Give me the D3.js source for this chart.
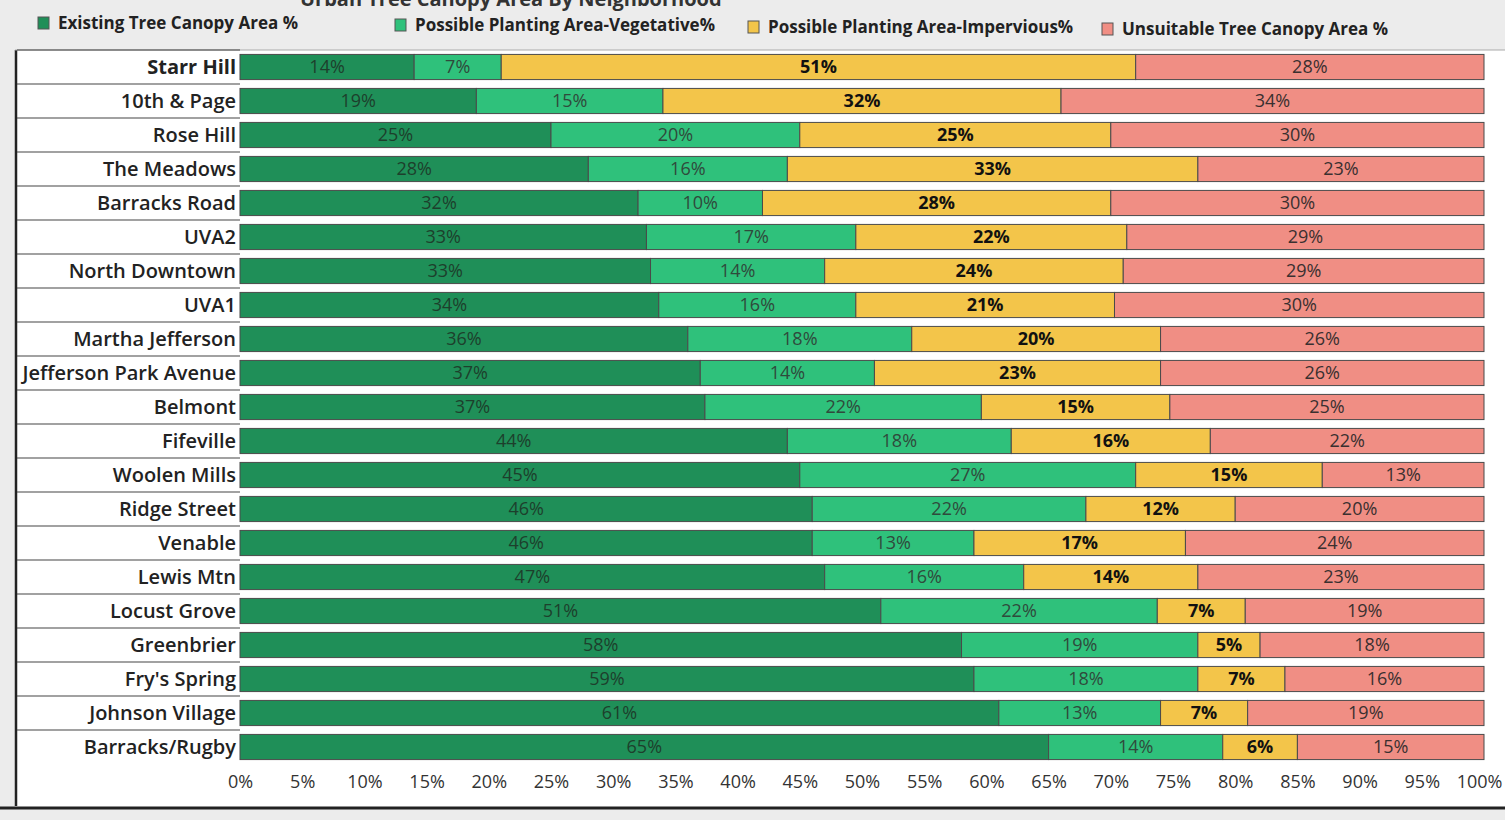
<!DOCTYPE html>
<html>
<head>
<meta charset="utf-8">
<script src="https://cdn.jsdelivr.net/npm/d3@7"></script>
<style>
  body { margin: 0; background: #ececec; font-family: "Open Sans", "Noto Sans", sans-serif; }
  #chart { width: 1505px; height: 820px; }
</style>
</head>
<body>
<div id="chart"></div>
<script>
var neighborhoods = ["Starr Hill", "10th & Page", "Rose Hill", "The Meadows", "Barracks Road", "UVA2",
	"North Downtown", "UVA1", "Martha Jefferson", "Jefferson Park Avenue", "Belmont", "Fifeville",
	"Woolen Mills", "Ridge Street", "Venable", "Lewis Mtn", "Locust Grove", "Greenbrier",
	"Fry's Spring", "Johnson Village", "Barracks/Rugby"];

var existing   = [14, 19, 25, 28, 32, 33, 33, 34, 36, 37, 37, 44, 45, 46, 46, 47, 51, 58, 59, 61, 65];
var vegetative = [7, 15, 20, 16, 10, 17, 14, 16, 18, 14, 22, 18, 27, 22, 13, 16, 22, 19, 18, 13, 14];
var impervious = [51, 32, 25, 33, 28, 22, 24, 21, 20, 23, 15, 16, 15, 12, 17, 14, 7, 5, 7, 7, 6];
var unsuitable = [28, 34, 30, 23, 30, 29, 29, 30, 26, 26, 25, 22, 13, 20, 24, 23, 19, 18, 16, 19, 15];

var seriesNames = ["Existing Tree Canopy Area %", "Possible Planting Area-Vegetative%",
	"Possible Planting Area-Impervious%", "Unsuitable Tree Canopy Area %"];
var seriesKeys = ["existing", "vegetative", "impervious", "unsuitable"];
var tickValues = [0, 5, 10, 15, 20, 25, 30, 35, 40, 45, 50, 55, 60, 65, 70, 75, 80, 85, 90, 95, 100];

var colors = ["#1f8f58", "#2fc17b", "#f3c54a", "#f08e84"];
var labelColors = ["#1d3f2c", "#2f4a3c", "#111", "#3a3030"];

var w = 1505, h = 820;
var margin = {top: 50, right: 1484, bottom: 764, left: 240};

var rows = neighborhoods.map(function(n, i) {
	return {name: n, existing: existing[i], vegetative: vegetative[i],
		impervious: impervious[i], unsuitable: unsuitable[i]};
});

// each row is shown as a share of its own total (percent of neighborhood)
var layers = d3.stack().keys(seriesKeys).offset(d3.stackOffsetExpand)(rows);

var svg = d3.select("#chart")
	.append("svg")
	.attr("width", w)
	.attr("height", h);

var xScale = d3.scaleLinear()
	.domain([0, 1])
	.range([margin.left, margin.right]);

var yScale = d3.scaleBand()
	.domain(neighborhoods)
	.range([margin.top, margin.bottom])
	.paddingInner(0.26)
	.paddingOuter(0.13);

var step = yScale.step();

// title, cut off at the top as in the scan
svg.append("text")
	.attr("x", 300)
	.attr("y", 6)
	.style("font-size", "20px")
	.style("font-weight", "bold")
	.attr("fill", "#333")
	.text("Urban Tree Canopy Area By Neighborhood");

// white chart panel
svg.append("rect")
	.attr("x", 15)
	.attr("y", margin.top)
	.attr("width", w - 15)
	.attr("height", 808 - margin.top)
	.attr("fill", "#fff");

svg.append("line")
	.attr("x1", 16).attr("x2", 16)
	.attr("y1", margin.top).attr("y2", 806)
	.attr("stroke", "#222")
	.attr("stroke-width", 2.5);

svg.append("line")
	.attr("x1", 15).attr("x2", w)
	.attr("y1", margin.top).attr("y2", margin.top)
	.attr("stroke", "#aaa")
	.attr("stroke-width", 1);

// row separators in the label column
svg.selectAll("line.sep")
	.data(neighborhoods)
	.enter()
	.append("line")
	.attr("class", "sep")
	.attr("x1", 17)
	.attr("x2", margin.left)
	.attr("y1", d => yScale(d) - step * yScale.paddingInner() / 2)
	.attr("y2", d => yScale(d) - step * yScale.paddingInner() / 2)
	.attr("stroke", "#444")
	.attr("stroke-width", 1.2);

// legend
var legendX = [38, 395, 748, 1102];
seriesNames.forEach(function(name, i) {
	svg.append("rect")
		.attr("x", legendX[i])
		.attr("y", 17 + i * 2)
		.attr("width", 11)
		.attr("height", 12)
		.attr("fill", colors[i])
		.attr("stroke", "#555")
		.attr("stroke-width", 1);
	svg.append("text")
		.attr("x", legendX[i] + 20)
		.attr("y", 29 + i * 2)
		.style("font-size", "17px")
		.style("font-weight", "bold")
		.attr("fill", "#222")
		.text(name);
});

// bars
var groups = svg.selectAll("g.layer")
	.data(layers)
	.enter()
	.append("g")
	.attr("class", "layer")
	.attr("fill", (d, i) => colors[i]);

groups.selectAll("rect")
	.data(d => d)
	.enter()
	.append("rect")
	.attr("x", d => xScale(d[0]))
	.attr("y", d => yScale(d.data.name))
	.attr("width", d => xScale(d[1]) - xScale(d[0]))
	.attr("height", yScale.bandwidth())
	.attr("stroke", "#4a4a4a")
	.attr("stroke-width", 1);

// bar labels show the values
groups.each(function(layer, i) {
	var key = layer.key;
	d3.select(this).selectAll("text")
		.data(layer)
		.enter()
		.append("text")
		.attr("x", d => xScale((d[0] + d[1]) / 2))
		.attr("y", d => yScale(d.data.name) + yScale.bandwidth() / 2 + 6)
		.attr("text-anchor", "middle")
		.style("font-size", "18px")
		.style("font-weight", i == 2 ? "bold" : "normal")
		.attr("fill", labelColors[i])
		.text(d => d.data[key] + "%");
});

// category labels
svg.selectAll("text.cat")
	.data(neighborhoods)
	.enter()
	.append("text")
	.attr("class", "cat")
	.attr("x", margin.left - 4)
	.attr("y", d => yScale(d) + yScale.bandwidth() / 2 + 7)
	.attr("text-anchor", "end")
	.style("font-size", "20px")
	.style("font-weight", (d, i) => i == 0 ? "bold" : "600")
	.attr("fill", "#222")
	.text(d => d);

// x axis
var xAxis = d3.axisBottom(xScale)
	.tickValues(tickValues.map(d => d / 100))
	.tickSize(0)
	.tickFormat(d => Math.round(d * 100) + "%");

svg.append("g")
	.attr("class", "x axis")
	.attr("transform", "translate(0," + (margin.bottom + 8) + ")")
	.call(xAxis)
	.call(g => g.select(".domain").remove())
	.selectAll("text")
	.style("font-size", "18px")
	.style("font-family", "'Open Sans', sans-serif")
	.attr("text-anchor", (d, i) => i == tickValues.length - 1 ? "end" : "middle")
	.attr("dx", (d, i) => i == tickValues.length - 1 ? 18 : 0)
	.attr("fill", "#333");

// bottom rule
svg.append("line")
	.attr("x1", 0).attr("x2", w)
	.attr("y1", 808).attr("y2", 808)
	.attr("stroke", "#222")
	.attr("stroke-width", 3);
</script>
</body>
</html>
